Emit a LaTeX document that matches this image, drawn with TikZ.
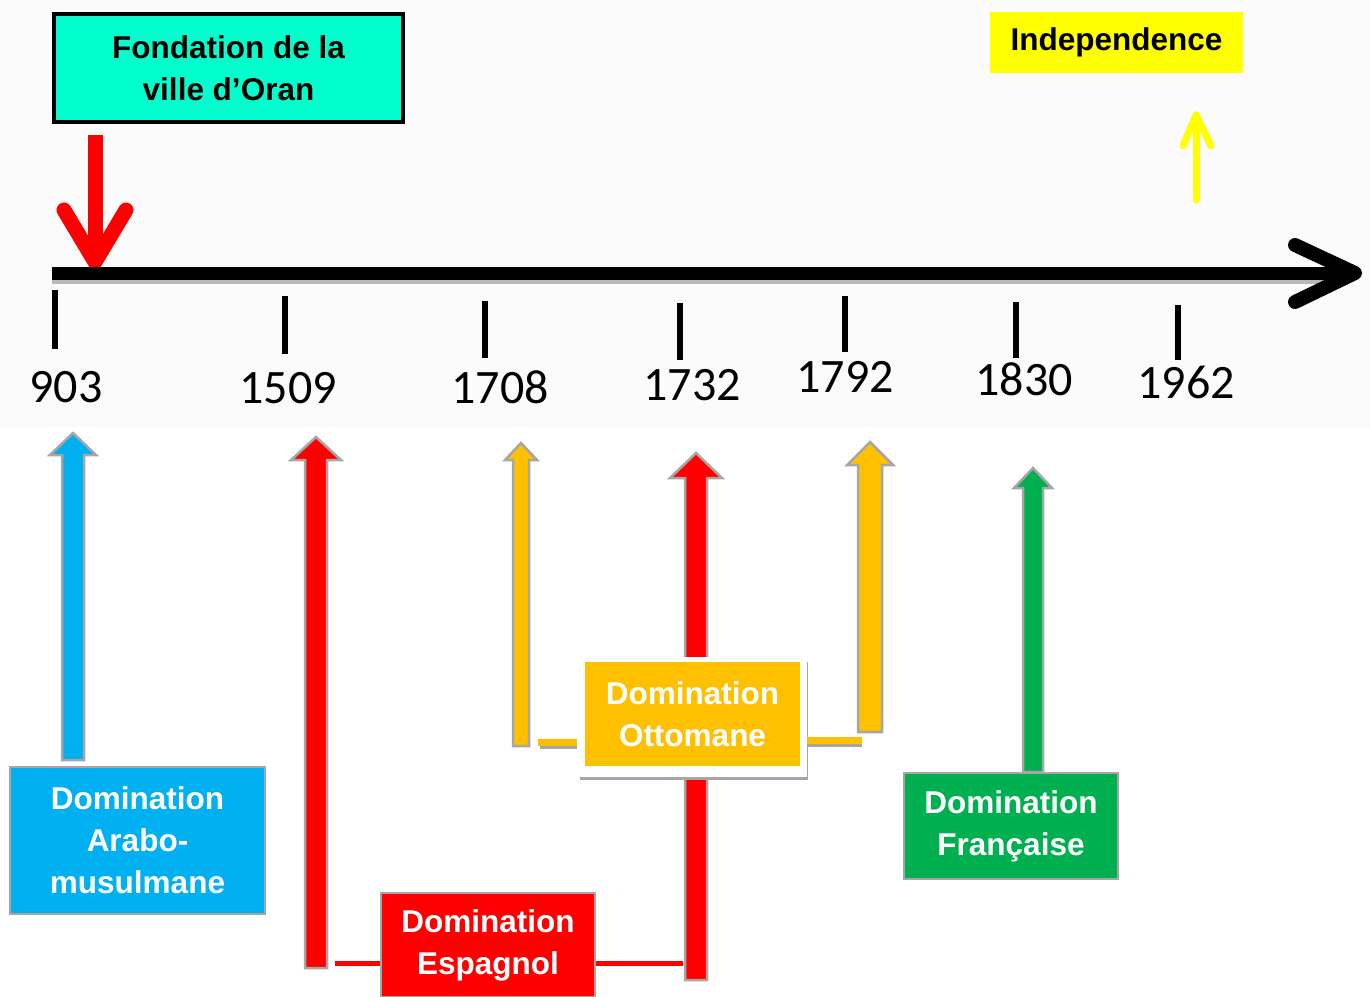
\documentclass[tikz,border=0pt]{standalone}
\usepackage{fontspec}
\setmainfont{Liberation Sans}
\newfontfamily\yearfont{Carlito}
\definecolor{fondcol}{HTML}{00FFCC}
\definecolor{indcol}{HTML}{FFFF00}
\definecolor{bluecol}{HTML}{00B0F0}
\definecolor{redcol}{HTML}{FF0000}
\definecolor{orcol}{HTML}{FFC000}
\definecolor{greencol}{HTML}{00B050}
\definecolor{arrgray}{HTML}{A6A6A6}
\definecolor{bgtop}{HTML}{FBFBFB}
\newcommand{\blockarr}[7]{%
  \filldraw[fill=#7, draw=arrgray, line width=2.5pt, miter limit=10]
   ({#1-#4},#3) -- ({#1-#4},{#2+#6}) -- ({#1-#5},{#2+#6}) -- (#1,#2)
   -- ({#1+#5},{#2+#6}) -- ({#1+#4},{#2+#6}) -- ({#1+#4},#3) -- cycle;}
\begin{document}
\begin{tikzpicture}[x=1pt,y=-1pt,
  txt/.style={rectangle, inner sep=0pt, align=center, font=\bfseries\fontsize{31.5}{42}\selectfont},
  domb/.style={txt, text=white, draw=arrgray, line width=2pt},
  tick/.style={line width=6pt},
  yr/.style={anchor=base, inner sep=0pt, font=\yearfont\fontsize{48}{52}\selectfont},
  redcon/.style={redcol, line width=5pt},
  yelcon/.style={orcol, line width=7pt},
  chev/.style={line width=15pt, line cap=round, line join=round}]
\useasboundingbox (0,0) rectangle (1370,996);
\fill[bgtop] (0,0) rectangle (1370,428);

% top boxes
\node[txt, fill=fondcol, draw=black, line width=4pt, minimum width=349pt, minimum height=108pt] (fond) at (228.5,68) {Fondation de la\\ville d’Oran};
\node[txt, fill=indcol, minimum width=253pt, minimum height=61pt] (ind) at (1116.5,42.5) {Independence};

% red down arrow
\coordinate (rdtop) at (95,135);
\coordinate (rdtip) at (95,262);
\draw[chev, redcol, line cap=butt] (rdtop) -- (rdtip);
\draw[chev, redcol] (64,210) -- (rdtip) -- (126,210);

% yellow small arrow
\coordinate (yabot) at (1196,200);
\coordinate (yatip) at (1196,115);
\draw[indcol, line width=7pt, line cap=round] (yabot) -- (yatip);
\draw[indcol, line width=7pt, line cap=round, line join=round] (1183,146) -- (yatip) -- (1211,146);

% axis
\draw[gray!55, line width=13pt] (52,277) -- (1345,277);
\draw[black, line width=13pt] (52,273) -- (1348,273);
\coordinate (axtip) at (1355,273);
\draw[chev, black, line width=14pt] (1295,245) -- (axtip) -- (1295,302);

% ticks
\draw[tick] (55,290) -- (55,349);
\draw[tick] (285,296) -- (285,354);
\draw[tick] (485,301) -- (485,358);
\draw[tick] (680,303) -- (680,360);
\draw[tick] (845,296) -- (845,352);
\draw[tick] (1016,302) -- (1016,358);
\draw[tick] (1178,305) -- (1178,360);

% years
\node[yr] (y903) at (66,402) {903};
\node[yr] (y1509) at (288,403) {1509};
\node[yr] (y1708) at (500,403) {1708};
\node[yr] (y1732) at (692,400) {1732};
\node[yr] (y1792) at (845,392) {1792};
\node[yr] (y1830) at (1024,395) {1830};
\node[yr] (y1962) at (1186,398) {1962};

% block arrows
\blockarr{73}{433}{760}{11}{23}{22}{bluecol}
\blockarr{316}{437}{968}{11}{25}{23}{redcol}
\blockarr{696}{453}{980}{11}{26}{25}{redcol}
\blockarr{521}{443}{746}{8}{16}{17}{orcol}
\blockarr{870}{442}{732}{12}{23}{23}{orcol}
\blockarr{1033}{468}{772}{10}{19}{20}{greencol}

% Ottoman box with white frame
\fill[arrgray] (580,662) rectangle (808,780);
\node[rectangle, fill=white, minimum width=230pt, minimum height=120pt, inner sep=0pt] (ottoframe) at (692,717) {};
\node[txt, text=white, fill=orcol, minimum width=215pt, minimum height=104pt] (otto) at (692.5,714) {Domination\\Ottomane};

% other boxes
\node[domb, fill=bluecol, minimum width=255pt, minimum height=147pt] (arab) at (137.5,840.5) {Domination\\Arabo-\\musulmane};
\node[domb, fill=redcol, minimum width=214pt, minimum height=104pt] (esp) at (488,945) {Domination\\Espagnol};
\node[domb, fill=greencol, minimum width=214pt, minimum height=106pt] (fra) at (1011,826) {Domination\\Française};

% connectors
\coordinate (r1) at (335,963);
\coordinate (r2) at (683,963);
\draw[redcon] (r1) -- (esp.west |- r1);
\draw[redcon] (esp.east |- r2) -- (r2);
\coordinate (o1) at (538,742);
\coordinate (o2) at (862,740);
\draw[arrgray, line width=3pt] (540,747) -- (577,747);
\draw[yelcon] (o1) -- (ottoframe.west |- o1);
\draw[arrgray, line width=3pt] (807,745) -- (862,745);
\draw[yelcon] (ottoframe.east |- o2) -- (o2);
\end{tikzpicture}
\end{document}
